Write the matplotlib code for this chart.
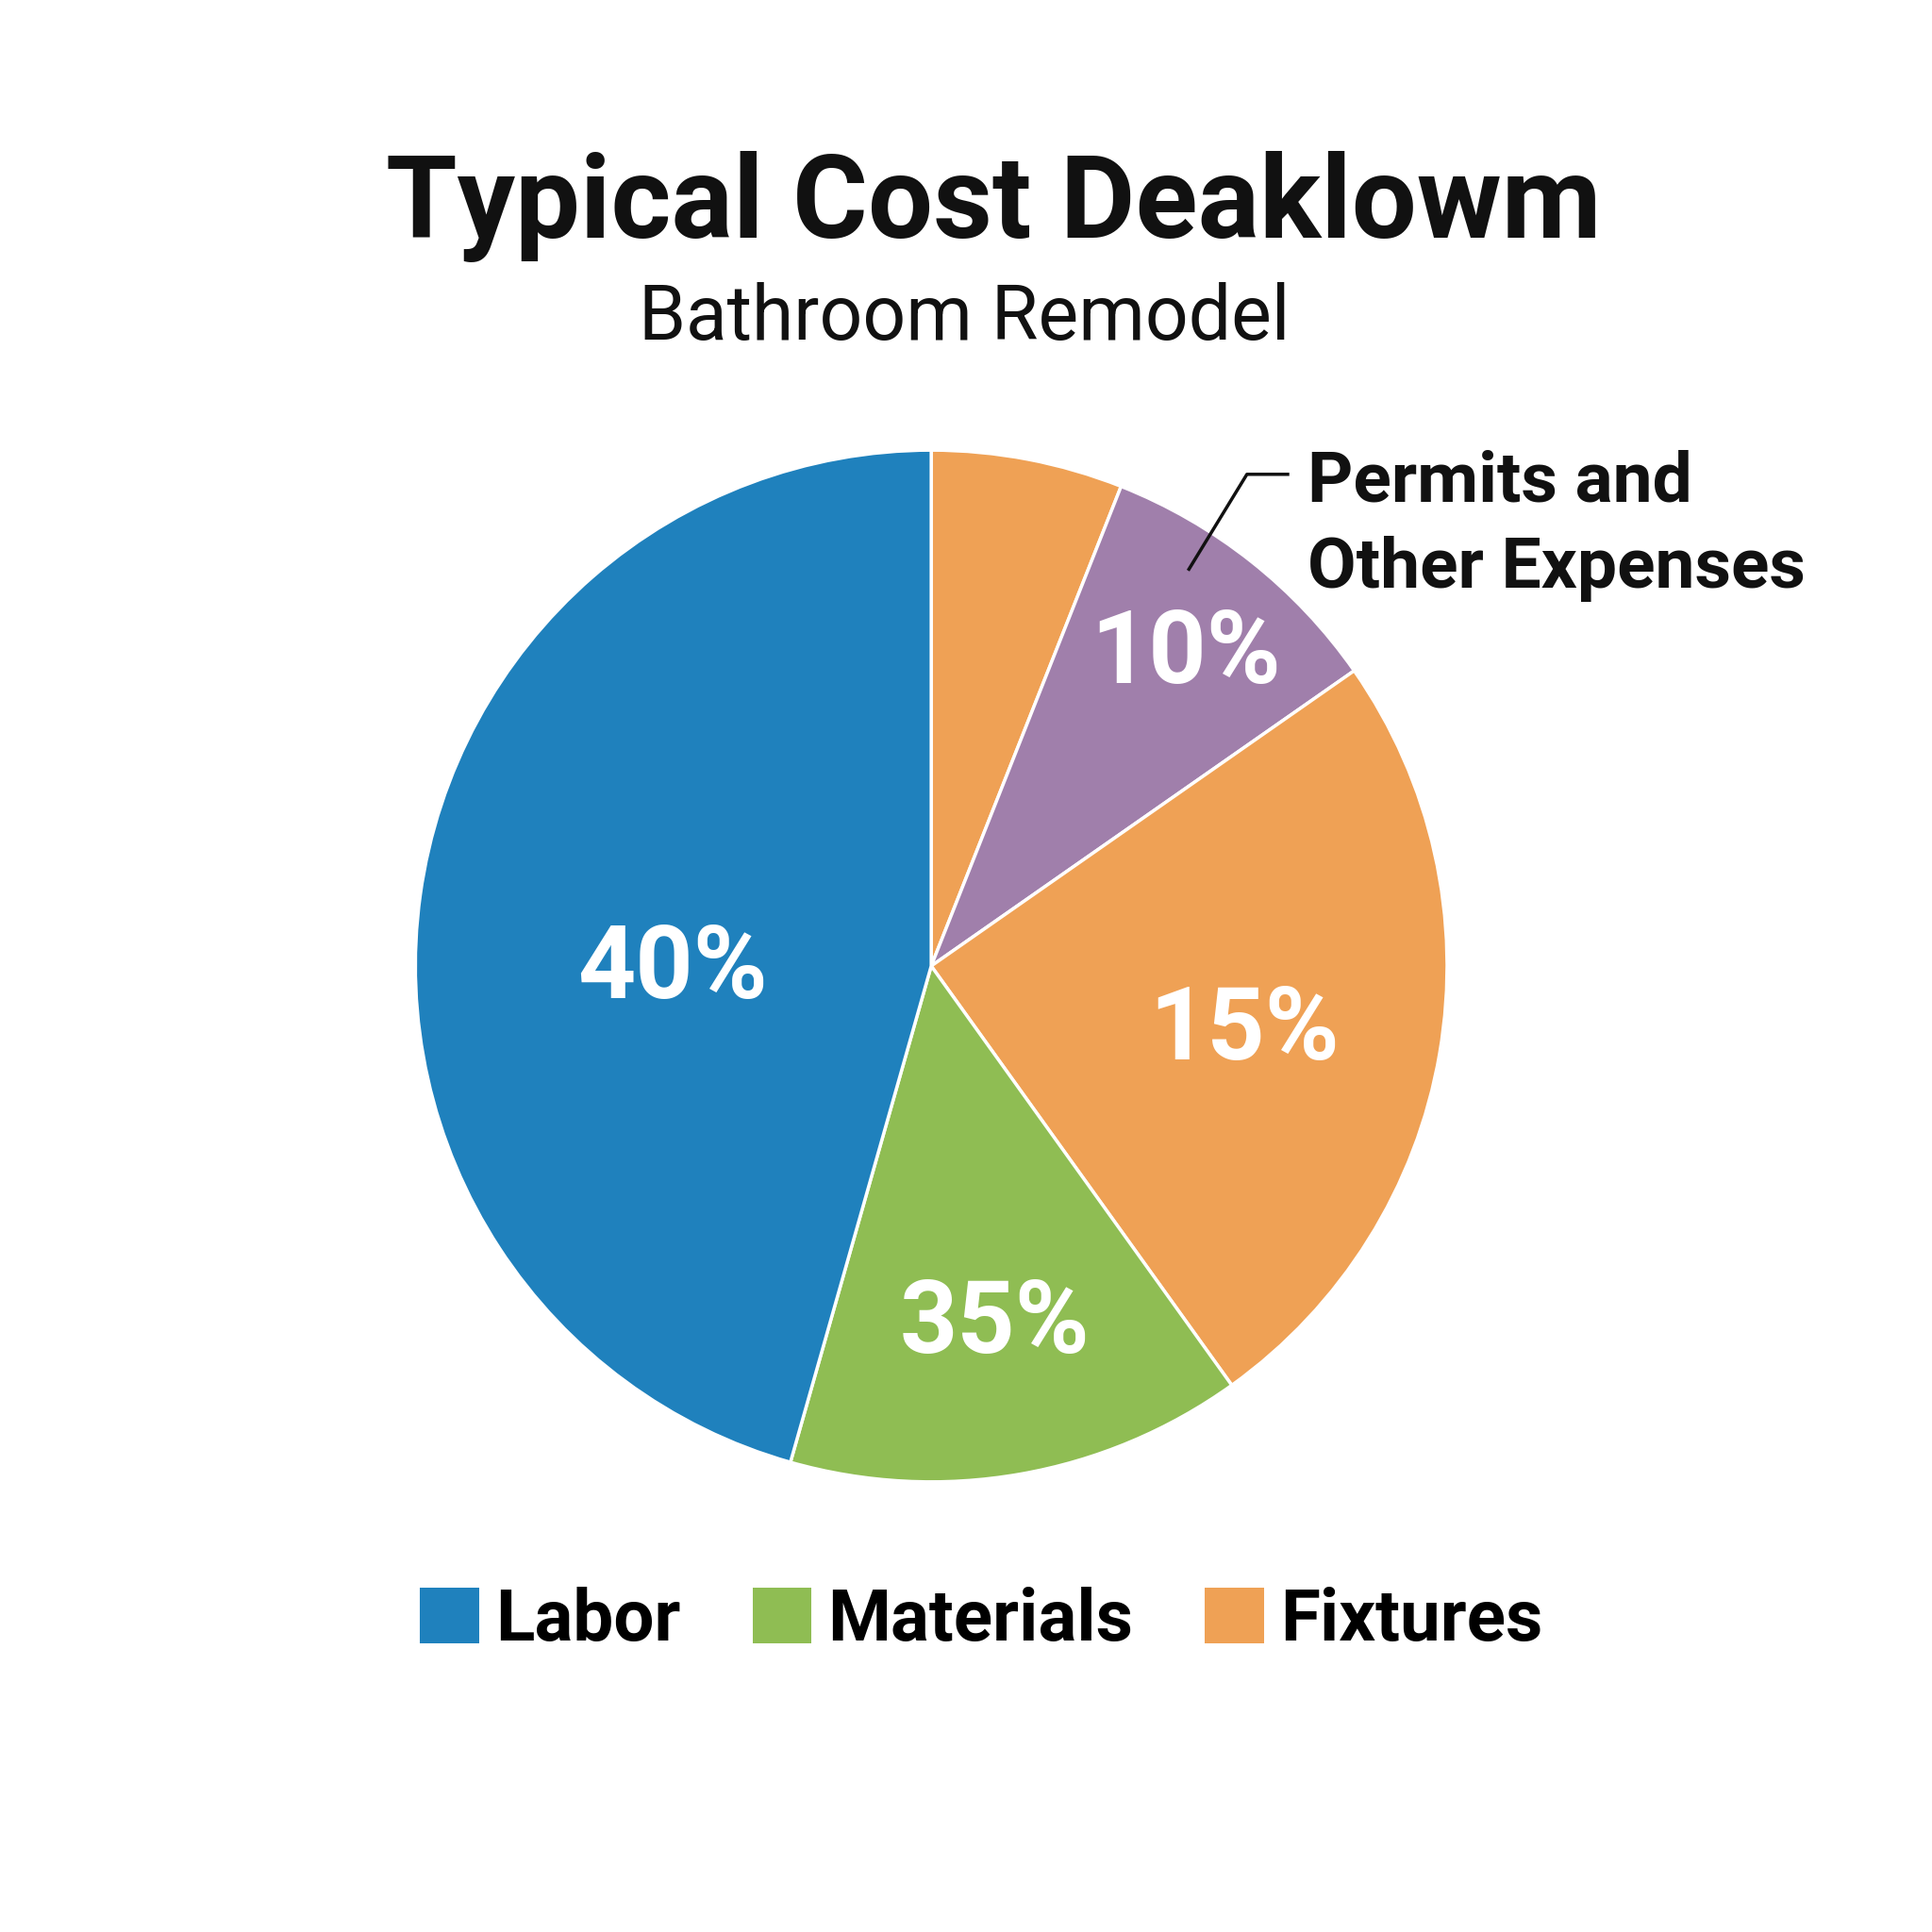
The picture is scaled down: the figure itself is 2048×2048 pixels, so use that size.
import matplotlib.pyplot as plt
from matplotlib.patches import Patch

plt.rcParams['font.family'] = ['Roboto', 'DejaVu Sans']

# wedge shares as drawn, clockwise from 12 o'clock
wedge_sizes = [6.0, 9.3, 24.8, 14.3, 45.6]
wedge_colors = ['#EFA155', '#A07FAB', '#EFA155', '#8FBD53', '#1F81BD']

# printed labels (as shown on the chart)
pct_labels = ['10%', '15%', '35%', '40%']
pct_pos = [(0.614, 0.661), (0.644, 0.466), (0.515, 0.314), (0.348, 0.498)]

legend_names = ['Labor', 'Materials', 'Fixtures']
legend_colors = ['#1F81BD', '#8FBD53', '#EFA155']

fig = plt.figure(figsize=(20.48, 20.48), dpi=100)
ax = fig.add_axes([0, 0, 1, 1])
ax.axis('off')

ax.pie(wedge_sizes, colors=wedge_colors, startangle=90, counterclock=False,
       center=(0.482, 0.5), radius=0.267,
       wedgeprops=dict(edgecolor='white', linewidth=2.5))
ax.set_xlim(0, 1)
ax.set_ylim(0, 1)
ax.set_aspect('equal')

for lab, (x, y) in zip(pct_labels, pct_pos):
    ax.text(x, y, lab, color='white', fontsize=77, fontweight='bold',
            ha='center', va='center')

# callout for permits
ax.plot([0.6154, 0.6454, 0.6665], [0.7054, 0.7545, 0.7545], color='#111111', lw=2.5)
ax.text(0.677, 0.728, 'Permits and\nOther Expenses', fontsize=54, fontweight='bold',
        ha='left', va='center', linespacing=1.38, color='#111111')

fig.text(0.5145, 0.893, 'Typical Cost Deaklowm', fontsize=88, fontweight='bold',
         ha='center', va='center', color='#111111')
fig.text(0.499, 0.835, 'Bathroom Remodel', fontsize=58, fontweight='normal',
         ha='center', va='center', color='#111111')

handles = [Patch(facecolor=c, edgecolor='none') for c in legend_colors]
fig.legend(handles, legend_names, loc='center', bbox_to_anchor=(0.508, 0.161),
           ncol=3, frameon=False, prop=dict(size=55, weight='bold'),
           handlelength=0.82, handleheight=0.82, handletextpad=0.22,
           columnspacing=1.0)

fig.savefig('out.png', dpi=100, facecolor='white')
